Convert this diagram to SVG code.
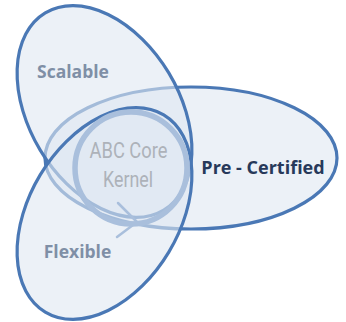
<svg xmlns="http://www.w3.org/2000/svg" width="346" height="322" viewBox="0 0 346 322">
  <style>
    .petal { fill: #dfe7f1; fill-opacity: 0.6; stroke: #4a78b5; stroke-width: 3.2; }
    .lbl { font-family: "Open Sans", "Liberation Sans", sans-serif; font-weight: 700; font-size: 17.5px; text-anchor: middle; }
    .soft { fill: #7f8fa6; }
    .strong { fill: #27395a; font-size: 18px; }
    .kernel { fill: #adb2b9; font-family: Roboto, "Liberation Sans", sans-serif; font-weight: 400; font-size: 22px; text-anchor: middle; }
    .ring { fill: none; stroke: #a9bfdc; stroke-width: 5.5; }
    .arrow { fill: none; stroke: #a9bfdc; stroke-width: 2.5; stroke-linecap: round; stroke-linejoin: round; }
  </style>
  <rect width="346" height="322" fill="#ffffff"/>
  <g id="pre-certified">
    <ellipse class="petal" cx="191" cy="158" rx="146" ry="71"/>
    <text class="lbl strong" x="263" y="174">Pre - Certified</text>
  </g>
  <g id="scalable">
    <ellipse class="petal" cx="0" cy="0" rx="115" ry="75" transform="translate(104.5 111.5) rotate(59)"/>
    <text class="lbl soft" x="73" y="78">Scalable</text>
  </g>
  <g id="flexible">
    <ellipse class="petal" cx="0" cy="0" rx="115" ry="75" transform="translate(104.5 213.5) rotate(-59)"/>
    <text class="lbl soft" x="77.5" y="258">Flexible</text>
  </g>
  <g id="connectors">
    <polyline class="arrow" points="118,203 137,222 117,237"/>
  </g>
  <g id="kernel">
    <circle class="ring" cx="131" cy="168" r="56"/>
    <text class="kernel" x="128.5" y="158" textLength="78" lengthAdjust="spacingAndGlyphs">ABC Core</text>
    <text class="kernel" x="128" y="187" textLength="50" lengthAdjust="spacingAndGlyphs">Kernel</text>
  </g>
</svg>
